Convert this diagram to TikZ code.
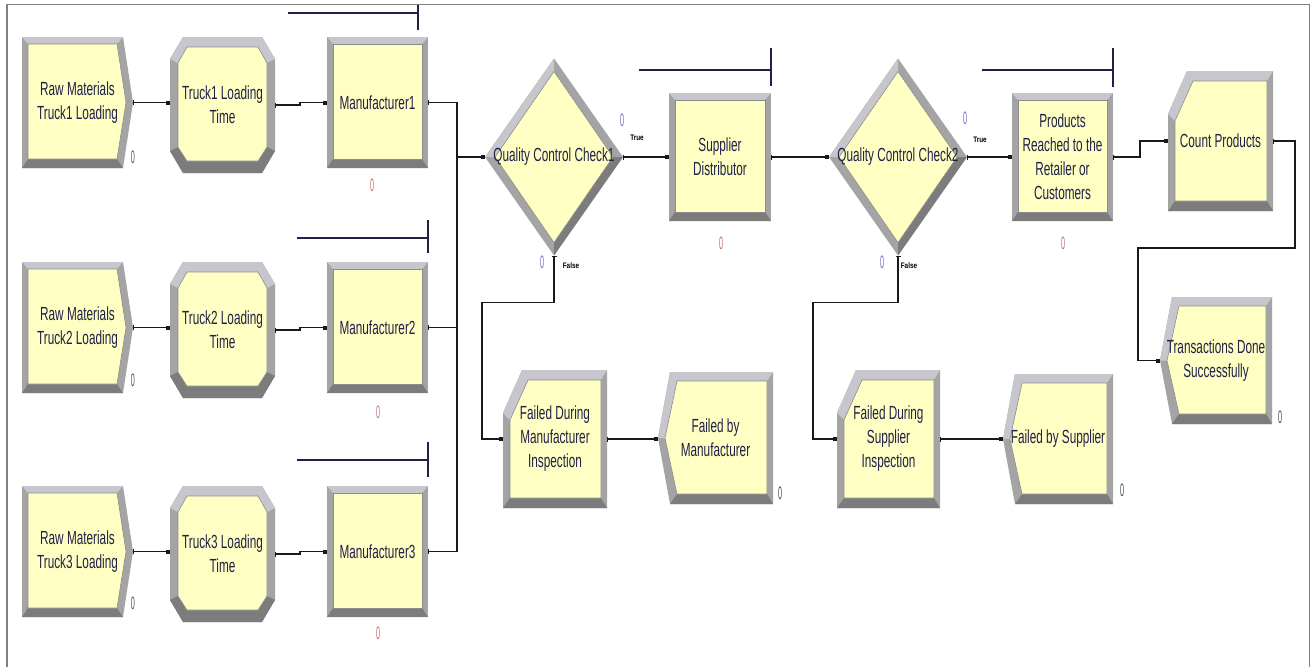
\documentclass[tikz,border=0pt]{standalone}
\usepackage{fontspec}
\usetikzlibrary{arrows.meta}
\newfontfamily\arenafont{Liberation Sans}[FakeStretch=0.62]
\newfontfamily\zerofont{Liberation Sans}[FakeStretch=0.4]
\newfontfamily\tinyfont{Liberation Sans}[FakeStretch=0.8]
\definecolor{modfill}{RGB}{255,255,196}
\definecolor{bvlight}{RGB}{198,198,204}
\definecolor{bvmid}{RGB}{164,164,164}
\definecolor{bvdark}{RGB}{124,124,124}
\definecolor{bvline}{RGB}{140,140,140}
\definecolor{navy}{RGB}{32,32,72}
\definecolor{framegray}{RGB}{128,128,128}
\definecolor{zcreate}{RGB}{80,80,110}
\definecolor{zproc}{RGB}{200,110,110}
\definecolor{zdec}{RGB}{110,110,200}
\definecolor{zdisp}{RGB}{70,70,90}
\tikzset{
  modtext/.style={rectangle, inner sep=0pt, outer sep=0pt, align=center, text=navy,
    font=\arenafont\fontsize{19}{24}\selectfont},
  zero/.style={inner sep=0pt, font=\zerofont\fontsize{18}{18}\selectfont},
  tflabel/.style={inner sep=0pt, text=black, font=\tinyfont\bfseries\fontsize{8}{8}\selectfont},
  conn/.style={line width=1.5pt, draw=black!90},
  exitend/.style={{Bar[width=5pt,line width=1.2pt]}-},
  entryend/.style={-{Square[length=4pt,width=4pt]}},
  bothend/.style={{Bar[width=5pt,line width=1.2pt]}-{Square[length=4pt,width=4pt]}},
  queue/.style={line width=1.6pt, draw=navy},
  inner/.style={fill=modfill, draw=bvline, line width=0.6pt},
}
% process (rectangle)
\newcommand\procmod[6]{%
  \begin{scope}[shift={(#2,#3)}]
    \fill[bvmid] (0,0) rectangle (#4,#5);
    \fill[bvlight] (0,0) -- (#4,0) -- ({#4-6},7) -- (6,7) -- cycle;
    \fill[bvdark] (0,#5) -- (#4,#5) -- ({#4-6},{#5-9}) -- (6,{#5-9}) -- cycle;
    \filldraw[inner] (6,7) rectangle ({#4-6},{#5-9});
  \end{scope}
  \node[modtext, minimum width=#4pt, minimum height=#5pt] (#1) at ({#2+#4/2},{#3+#5/2}) {#6};}
% create (chevron to the right)
\newcommand\createmod[6]{%
  \begin{scope}[shift={(#2,#3)}]
    \fill[bvmid] (0,0) -- ({#4-10},0) -- (#4,{#5/2}) -- ({#4-10},#5) -- (0,#5) -- cycle;
    \fill[bvlight] (0,0) -- ({#4-10},0) -- ({#4-16},7) -- (6,7) -- cycle;
    \fill[bvdark] (0,#5) -- ({#4-10},#5) -- ({#4-16},{#5-9}) -- (6,{#5-9}) -- cycle;
    \filldraw[inner] (6,7) -- ({#4-16},7) -- ({#4-7},{#5/2}) -- ({#4-16},{#5-9}) -- (6,{#5-9}) -- cycle;
  \end{scope}
  \node[modtext, minimum width=#4pt, minimum height=#5pt] (#1) at ({#2+#4/2},{#3+#5/2}) {#6};}
% delay (cut corners)
\newcommand\delaymod[6]{%
  \begin{scope}[shift={(#2,#3)}]
    \fill[bvmid] (13,0) -- ({#4-13},0) -- (#4,22) -- (#4,{#5-22}) -- ({#4-13},#5) -- (13,#5) -- (0,{#5-22}) -- (0,22) -- cycle;
    \fill[bvlight] (0,22) -- (13,0) -- ({#4-13},0) -- (#4,22) -- ({#4-8},26) -- ({#4-17},10) -- (17,10) -- (8,26) -- cycle;
    \fill[bvdark] (0,{#5-22}) -- (13,#5) -- ({#4-13},#5) -- (#4,{#5-22}) -- ({#4-8},{#5-26}) -- ({#4-17},{#5-12}) -- (17,{#5-12}) -- (8,{#5-26}) -- cycle;
    \filldraw[inner] (17,10) -- ({#4-17},10) -- ({#4-8},26) -- ({#4-8},{#5-26}) -- ({#4-17},{#5-12}) -- (17,{#5-12}) -- (8,{#5-26}) -- (8,26) -- cycle;
  \end{scope}
  \node[modtext, minimum width=#4pt, minimum height=#5pt] (#1) at ({#2+#4/2},{#3+#5/2}) {#6};}
% record (top-left chamfer)
\newcommand\recordmod[6]{%
  \begin{scope}[shift={(#2,#3)}]
    \fill[bvmid] (0,43) -- (19,0) -- (#4,0) -- (#4,#5) -- (0,#5) -- cycle;
    \fill[bvlight] (0,43) -- (19,0) -- (#4,0) -- ({#4-6},10) -- (25,10) -- (7,50) -- cycle;
    \fill[bvdark] (0,#5) -- (#4,#5) -- ({#4-6},{#5-10}) -- (7,{#5-10}) -- cycle;
    \filldraw[inner] (7,50) -- (25,10) -- ({#4-6},10) -- ({#4-6},{#5-10}) -- (7,{#5-10}) -- cycle;
  \end{scope}
  \node[modtext, minimum width=#4pt, minimum height=#5pt] (#1) at ({#2+#4/2},{#3+#5/2}) {#6};}
% dispose (chevron on the left)
\newcommand\disposemod[6]{%
  \begin{scope}[shift={(#2,#3)}]
    \fill[bvmid] (12,0) -- (#4,0) -- (#4,#5) -- (12,#5) -- (0,{#5/2}) -- cycle;
    \fill[bvlight] (12,0) -- (#4,0) -- ({#4-6},9) -- (19,9) -- (7,{#5/2}) -- (0,{#5/2}) -- cycle;
    \fill[bvdark] (12,#5) -- (#4,#5) -- ({#4-6},{#5-10}) -- (19,{#5-10}) -- cycle;
    \filldraw[inner] (19,9) -- ({#4-6},9) -- ({#4-6},{#5-10}) -- (19,{#5-10}) -- (7,{#5/2}) -- cycle;
  \end{scope}
  \node[modtext, minimum width=#4pt, minimum height=#5pt] (#1) at ({#2+#4/2},{#3+#5/2}) {#6};}
% decide (diamond)
\newcommand\decidemod[6]{%
  \begin{scope}[shift={(#2,#3)}]
    \fill[bvmid] ({#4/2},0) -- (#4,{#5/2}) -- ({#4/2},#5) -- (0,{#5/2}) -- cycle;
    \fill[bvlight] (0,{#5/2}) -- ({#4/2},0) -- ({#4/2},13) -- (10,{#5/2}) -- cycle;
    \fill[bvdark] (#4,{#5/2}) -- ({#4/2},#5) -- ({#4/2},{#5-13}) -- ({#4-10},{#5/2}) -- cycle;
    \filldraw[inner] ({#4/2},13) -- ({#4-10},{#5/2}) -- ({#4/2},{#5-13}) -- (10,{#5/2}) -- cycle;
  \end{scope}
  \node[modtext, minimum width=#4pt, minimum height=#5pt] (#1) at ({#2+#4/2},{#3+#5/2}) {#6};}

\begin{document}
\begin{tikzpicture}[x=1pt,y=-1pt]
\fill[white] (0,0) rectangle (1311,667);
\useasboundingbox (0,0) rectangle (1311,667);
\draw[framegray, line width=1.5pt] (7,667) -- (7,4.5) -- (1309.5,4.5) -- (1309.5,667);

% row 1
\createmod{c1}{22}{37}{111}{131}{Raw Materials\\Truck1 Loading}
\delaymod{t1}{170}{37}{105}{136}{Truck1 Loading\\Time}
\procmod{m1}{327}{37}{101}{131}{Manufacturer1}
% row 2
\createmod{c2}{22}{262}{111}{131}{Raw Materials\\Truck2 Loading}
\delaymod{t2}{170}{262}{105}{136}{Truck2 Loading\\Time}
\procmod{m2}{327}{262}{101}{131}{Manufacturer2}
% row 3
\createmod{c3}{22}{486}{111}{131}{Raw Materials\\Truck3 Loading}
\delaymod{t3}{170}{486}{105}{136}{Truck3 Loading\\Time}
\procmod{m3}{327}{486}{101}{131}{Manufacturer3}

\decidemod{d1}{485}{58.5}{138}{197}{Quality Control Check1}
\procmod{s}{669}{93}{102}{128}{Supplier\\Distributor}
\decidemod{d2}{829}{58.5}{138}{197}{Quality Control Check2}
\procmod{p}{1012}{93}{101}{128}{Products\\Reached to the\\Retailer or\\Customers}
\recordmod{cp}{1168}{71}{105}{140}{Count Products}
\disposemod{tr}{1160}{297}{112}{127}{Transactions Done\\Successfully}
\recordmod{fm}{503}{370}{104}{138}{Failed During\\Manufacturer\\Inspection}
\disposemod{fbm}{658}{372}{115}{132}{Failed by\\Manufacturer}
\recordmod{fs}{837}{370}{103}{138}{Failed During\\Supplier\\Inspection}
\disposemod{fbs}{1003}{374}{110}{130}{Failed by Supplier}

% queues
\draw[queue] (288,13) -- (418,13); \draw[queue] (418,5) -- (418,30);
\draw[queue] (297,238) -- (428,238); \draw[queue] (428,220) -- (428,253);
\draw[queue] (297,460) -- (428,460); \draw[queue] (428,442) -- (428,477);
\draw[queue] (639,70) -- (771,70); \draw[queue] (771,48) -- (771,86);
\draw[queue] (982,70) -- (1113,70); \draw[queue] (1113,48) -- (1113,87);

% connectors
\draw[conn, bothend] (c1.east) -- (c1.east -| t1.west);
\draw[conn, bothend] (t1.east) -- ++(25,0) |- (m1.west);
\draw[conn, bothend] (c2.east) -- (c2.east -| t2.west);
\draw[conn, bothend] (t2.east) -- ++(25,0) |- (m2.west);
\draw[conn, bothend] (c3.east) -- (c3.east -| t3.west);
\draw[conn, bothend] (t3.east) -- ++(25,0) |- (m3.west);
\coordinate (j) at (457,157);
\draw[conn, exitend] (m1.east) -| (j);
\draw[conn, exitend] (m2.east) -| (j);
\draw[conn, exitend] (m3.east) -| (j);
\draw[conn, entryend] (j) -- (d1.west);
\draw[conn, bothend] (d1.east) -- (s.west);
\draw[conn, bothend] (d1.south) -- ++(0,47) -- ++(-72,0) |- (fm.west);
\draw[conn, bothend] (s.east) -- (d2.west);
\draw[conn, bothend] (d2.east) -- (p.west);
\draw[conn, bothend] (d2.south) -- ++(0,47) -- ++(-85,0) |- (fs.west);
\draw[conn, bothend] (fm.east) -- (fm.east -| fbm.west);
\draw[conn, bothend] (fs.east) -- (fs.east -| fbs.west);
\draw[conn, bothend] (p.east) -- ++(27,0) |- (cp.west);
\draw[conn, bothend] (cp.east) -- ++(22,0) -- ++(0,107) -- ++(-157,0) |- (tr.west);

% counters
\node[zero, text=zcreate] (zc1) at (133,157) {0};
\node[zero, text=zcreate] (zc2) at (133,380) {0};
\node[zero, text=zcreate] (zc3) at (133,603) {0};
\node[zero, text=zproc] (zm1) at (372,185) {0};
\node[zero, text=zproc] (zm2) at (378,412) {0};
\node[zero, text=zproc] (zm3) at (378,633) {0};
\node[zero, text=zproc] (zs) at (721,243) {0};
\node[zero, text=zproc] (zp) at (1063,243) {0};
\node[zero, text=zdec] (zd1t) at (622,120) {0};
\node[zero, text=zdec] (zd1f) at (542,262) {0};
\node[zero, text=zdec] (zd2t) at (965,118) {0};
\node[zero, text=zdec] (zd2f) at (882,262) {0};
\node[zero, text=zdisp] (zfbm) at (780,493) {0};
\node[zero, text=zdisp] (zfbs) at (1122,490) {0};
\node[zero, text=zdisp] (ztr) at (1280,417) {0};

\node[tflabel] (t1l) at (637,138) {True};
\node[tflabel] (t2l) at (980,140) {True};
\node[tflabel] (f1l) at (571,266) {False};
\node[tflabel] (f2l) at (909,266) {False};
\end{tikzpicture}
\end{document}
